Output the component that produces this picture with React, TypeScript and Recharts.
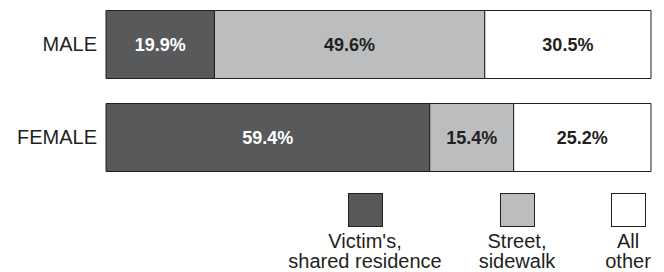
import { BarChart, Bar, XAxis, YAxis, LabelList } from "recharts";

const groups = ["MALE", "FEMALE"];
const residence = [19.9, 59.4];
const street = [49.6, 15.4];
const other = [30.5, 25.2];

const series = [
  { key: "residence", lines: ["Victim's,", "shared residence"], fill: "#58595b", text: "#ffffff", center: 365 },
  { key: "street", lines: ["Street,", "sidewalk"], fill: "#bcbdbf", text: "#231f20", center: 517 },
  { key: "other", lines: ["All", "other"], fill: "#ffffff", text: "#231f20", center: 628 },
];

const data = groups.map((name, i) => ({
  name,
  residence: residence[i],
  street: street[i],
  other: other[i],
}));

const font = "'Liberation Sans', Arial, Helvetica, sans-serif";

export default function App() {
  return (
    <div style={{ position: "absolute", left: 0, top: 0, width: 664, height: 272, background: "#fff", fontFamily: font }}>
      <BarChart
        width={664}
        height={272}
        data={data}
        layout="vertical"
        margin={{ top: -2.5, right: 13, bottom: 88.5, left: 0 }}
        barSize={68}
      >
        <XAxis type="number" domain={[0, 100]} hide />
        <YAxis
          type="category"
          dataKey="name"
          width={106}
          tickLine={false}
          axisLine={false}
          tickSize={0}
          tickMargin={9}
          tick={{ fill: "#231f20", fontSize: 20, fontFamily: font }}
        />
        {series.map((s) => (
          <Bar
            key={s.key}
            dataKey={s.key}
            stackId="a"
            fill={s.fill}
            stroke="#231f20"
            strokeWidth={1}
            isAnimationActive={false}
          >
            <LabelList
              dataKey={s.key}
              position="center"
              fill={s.text}
              fontSize={18}
              fontWeight="bold"
              fontFamily={font}
              formatter={(v: number) => v.toFixed(1) + "%"}
            />
          </Bar>
        ))}
      </BarChart>
      {series.map((s) => (
        <div
          key={s.key}
          style={{
            position: "absolute",
            left: s.center - 100,
            width: 200,
            top: 193,
            textAlign: "center",
            color: "#231f20",
            fontSize: 20,
            lineHeight: "20px",
          }}
        >
          <div
            style={{
              width: 33,
              height: 32,
              margin: "0 auto 4px",
              background: s.fill,
              border: "1px solid #231f20",
            }}
          />
          {s.lines.map((l) => (
            <div key={l}>{l}</div>
          ))}
        </div>
      ))}
    </div>
  );
}
